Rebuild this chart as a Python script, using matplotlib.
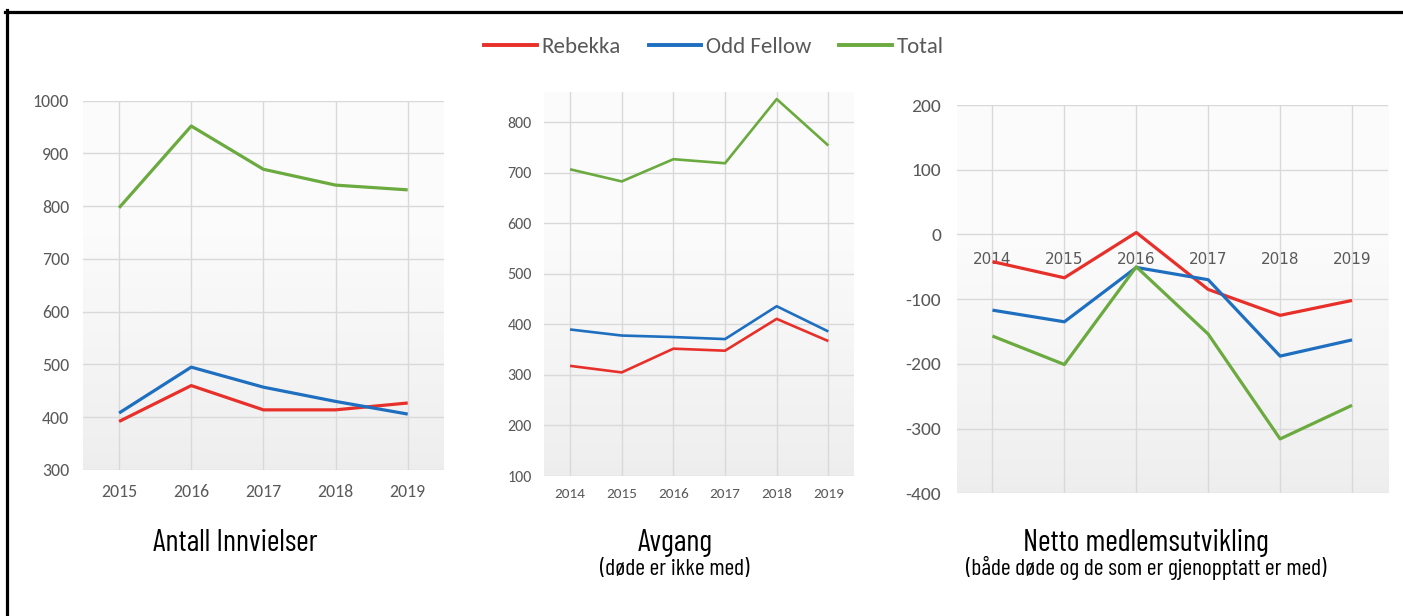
import numpy as np
import matplotlib
matplotlib.use("Agg")
import matplotlib.pyplot as plt
from matplotlib import font_manager
from matplotlib.lines import Line2D

# ---------------- data ----------------
series_names = ["Rebekka", "Odd Fellow", "Total"]

years1 = ["2015", "2016", "2017", "2018", "2019"]
rebekka1 = [392, 460, 414, 414, 427]
oddfellow1 = [408, 495, 457, 430, 406]
total1 = [797, 952, 870, 840, 831]

years2 = ["2014", "2015", "2016", "2017", "2018", "2019"]
rebekka2 = [318, 305, 352, 348, 411, 367]
oddfellow2 = [390, 378, 375, 371, 436, 386]
total2 = [707, 683, 727, 719, 846, 754]

years3 = ["2014", "2015", "2016", "2017", "2018", "2019"]
rebekka3 = [-42, -67, 3, -85, -125, -102]
oddfellow3 = [-117, -135, -51, -70, -188, -163]
total3 = [-157, -201, -50, -154, -316, -264]

titles = ["Antall Innvielser", "Avgang", "Netto medlemsutvikling"]
subtitles = ["", "(døde er ikke med)", "(både døde og de som er gjenopptatt er med)"]

# ---------------- style ----------------
plt.rcParams["axes.unicode_minus"] = False
colors = ["#e8302a", "#1f6fc0", "#6aaa3f"]
grid_c = "#d9d9d9"
tick_c = "#595959"

avail = {f.name for f in font_manager.fontManager.ttflist}


def pick(cands):
    for c in cands:
        if c in avail:
            return c
    return "DejaVu Sans"


narrow = pick(["Barlow Condensed", "Roboto Condensed", "Archivo Narrow", "PT Sans Narrow"])
tickfont = pick(["Carlito", "Open Sans"])

W, H = 1403, 616
fig = plt.figure(figsize=(W / 100, H / 100), dpi=100)


def px_axes(left, top, right, bottom):
    return fig.add_axes([left / W, 1 - bottom / H, (right - left) / W, (bottom - top) / H])


grad = np.linspace(0, 1, 256).reshape(-1, 1)
grad = np.clip((grad - 0.35) / 0.65, 0, 1)


def style_axes(ax, cats, ylo, yhi, step, fsx, fsy, pad_y, pad_x, lw, vals, ymax_tick=None):
    x = np.arange(len(cats))
    ax.set_xlim(-0.5, len(cats) - 0.5)
    ax.set_ylim(ylo, yhi)
    ax.imshow(grad, extent=[0, 1, 0, 1], transform=ax.transAxes, cmap=plt.cm.Greys,
              vmin=-0.3, vmax=9, aspect="auto", zorder=0, origin="upper")
    for s in ax.spines.values():
        s.set_visible(False)
    top = yhi if ymax_tick is None else ymax_tick
    ax.set_yticks(np.arange(ylo, top + 1, step))
    ax.set_xticks(x)
    ax.set_xticklabels(cats)
    ax.tick_params(axis="both", length=0, labelcolor=tick_c)
    ax.tick_params(axis="x", labelsize=fsx, pad=pad_x)
    ax.tick_params(axis="y", labelsize=fsy, pad=pad_y)
    for lab in ax.get_xticklabels() + ax.get_yticklabels():
        lab.set_fontfamily(tickfont)
    ax.grid(True, color=grid_c, linewidth=1.0, zorder=1)
    ax.set_axisbelow(True)
    for v, c in zip(vals, colors):
        ax.plot(x, v, color=c, linewidth=lw, zorder=3, solid_capstyle="butt")


ax1 = px_axes(83, 100.7, 443.8, 470)
style_axes(ax1, years1, 300, 1000, 100, 12.8, 12.8, 10, 10, 2.3,
           [rebekka1, oddfellow1, total1])

ax2 = px_axes(544.2, 92, 854.2, 476)
style_axes(ax2, years2, 100, 860, 100, 11, 11.5, 9, 9, 1.9,
           [rebekka2, oddfellow2, total2], ymax_tick=800)

ax3 = px_axes(956.5, 105, 1388, 493.3)
style_axes(ax3, years3, -400, 200, 100, 11, 14, 11, 0, 2.3,
           [rebekka3, oddfellow3, total3])
ax3.spines["bottom"].set_position(("data", 0))
ax3.tick_params(axis="x", pad=13)

# legend
handles = [Line2D([0], [0], color=c, linewidth=2.8) for c in colors]
fig.legend(handles, series_names, loc="center", bbox_to_anchor=(714 / W, 1 - 47 / H),
           ncol=3, frameon=False, handlelength=2.3, handletextpad=0.22, columnspacing=1.2,
           prop={"family": tickfont, "size": 16.5}, labelcolor=tick_c)

# titles
tx = [235.5, 675, 1146]
for t, s, xx in zip(titles, subtitles, tx):
    fig.text(xx / W, 1 - 551 / H, t, ha="center", va="baseline", fontsize=22, family=narrow,
             weight="normal")
    if s:
        fig.text(xx / W, 1 - 575 / H, s, ha="center", va="baseline", fontsize=17,
                 family=narrow, weight="normal")

# border (top + left)
fig.add_artist(Line2D([5 / W, 1.0], [1 - 11.5 / H, 1 - 11.5 / H], color="black", linewidth=2.3,
                      transform=fig.transFigure))
fig.add_artist(Line2D([6.5 / W, 6.5 / W], [0, 1 - 10 / H], color="black", linewidth=2.3,
                      transform=fig.transFigure))

fig.savefig("out.png", dpi=100)
